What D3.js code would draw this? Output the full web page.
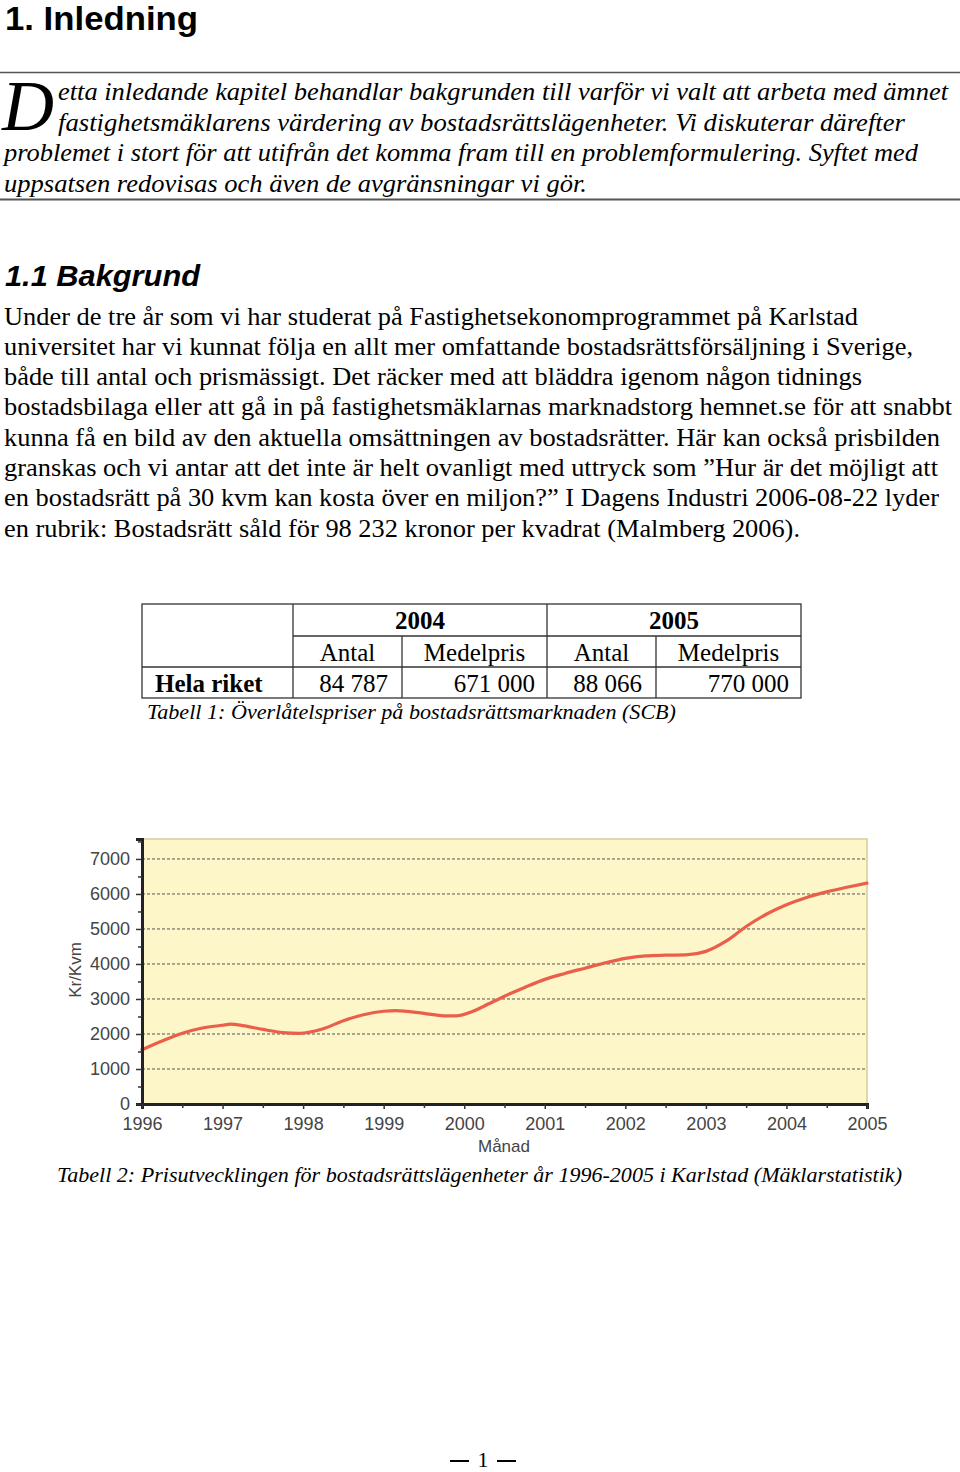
<!DOCTYPE html>
<html><head><meta charset="utf-8">
<script src="https://cdn.jsdelivr.net/npm/d3@7/dist/d3.min.js"></script>
<style>
html,body{margin:0;padding:0;background:#fff;}
svg{display:block;}
</style></head>
<body>
<svg id="page" width="960" height="1472"></svg>
<script>
// ---- chart data (Kr/Kvm, Karlstad, 1996-2005) ----
const periods = [1996.0,1996.25,1996.5,1996.75,1997.0,1997.1,1997.25,1997.5,1997.75,1997.95,
  1998.25,1998.5,1998.75,1999.0,1999.15,1999.5,1999.75,1999.9,2000.1,2000.25,2000.5,2000.75,
  2001.0,2001.25,2001.5,2001.75,2002.0,2002.25,2002.5,2002.75,2003.0,2003.25,2003.5,2003.75,
  2004.0,2004.25,2004.5,2004.75,2005.0];
const prices = [1550,1800,2020,2170,2250,2280,2240,2130,2040,2020,
  2150,2380,2550,2650,2670,2590,2520,2520,2640,2800,3080,3330,
  3560,3730,3880,4030,4160,4230,4250,4260,4360,4650,5070,5420,
  5690,5900,6060,6190,6310];
const yearTicks = [1996,1997,1998,1999,2000,2001,2002,2003,2004,2005];
const yTicks = [0,1000,2000,3000,4000,5000,6000,7000];

// ---- table data ----
const tableYears = ["2004","2005"];
const tableCols = ["Antal","Medelpris","Antal","Medelpris"];
const tableRowLabel = "Hela riket";
const tableValues = ["84 787","671 000","88 066","770 000"];

// ---- text ----
const introLines = [
  {t:"etta inledande kapitel behandlar bakgrunden till varför vi valt att arbeta med ämnet", x:58, y:100, end:948},
  {t:"fastighetsmäklarens värdering av bostadsrättslägenheter. Vi diskuterar därefter", x:58, y:131, end:905},
  {t:"problemet i stort för att utifrån det komma fram till en problemformulering. Syftet med", x:4, y:161, end:918},
  {t:"uppsatsen redovisas och även de avgränsningar vi gör.", x:4, y:192, end:587}
];
const bodyLines = [
  {t:"Under de tre år som vi har studerat på Fastighetsekonomprogrammet på Karlstad", end:858},
  {t:"universitet har vi kunnat följa en allt mer omfattande bostadsrättsförsäljning i Sverige,", end:913},
  {t:"både till antal och prismässigt. Det räcker med att bläddra igenom någon tidnings", end:862},
  {t:"bostadsbilaga eller att gå in på fastighetsmäklarnas marknadstorg hemnet.se för att snabbt", end:952},
  {t:"kunna få en bild av den aktuella omsättningen av bostadsrätter. Här kan också prisbilden", end:940},
  {t:"granskas och vi antar att det inte är helt ovanligt med uttryck som ”Hur är det möjligt att", end:938},
  {t:"en bostadsrätt på 30 kvm kan kosta över en miljon?” I Dagens Industri 2006-08-22 lyder", end:939},
  {t:"en rubrik: Bostadsrätt såld för 98 232 kronor per kvadrat (Malmberg 2006).", end:800}
];

const svg = d3.select("#page");
const serif = "'Liberation Serif','Times New Roman',serif";
const sans = "'Liberation Sans',Arial,sans-serif";

function fitText(sel, x, end){
  sel.attr("textLength", end - x).attr("lengthAdjust","spacingAndGlyphs");
}

// Heading
const h1 = svg.append("text").attr("x",5).attr("y",30).attr("font-family",sans).attr("font-weight","bold")
  .attr("font-size",33).attr("fill","#000").text("1. Inledning");
fitText(h1,5,198);

// Rules
svg.append("line").attr("x1",0).attr("x2",960).attr("y1",72.5).attr("y2",72.5).attr("stroke","#555").attr("stroke-width",1.5);
svg.append("line").attr("x1",0).attr("x2",960).attr("y1",199.5).attr("y2",199.5).attr("stroke","#555").attr("stroke-width",2);

// Drop cap
svg.append("text").attr("x",2).attr("y",130).attr("font-family",serif).attr("font-style","italic")
  .attr("font-size",72).attr("fill","#000").text("D");

introLines.forEach(l=>{
  const t = svg.append("text").attr("x",l.x).attr("y",l.y).attr("font-family",serif)
    .attr("font-style","italic").attr("font-size",25.5).attr("fill","#000").text(l.t);
  fitText(t,l.x,l.end);
});

// Section heading
const h2 = svg.append("text").attr("x",5).attr("y",286).attr("font-family",sans).attr("font-weight","bold")
  .attr("font-style","italic").attr("font-size",30).attr("fill","#000").text("1.1 Bakgrund");
fitText(h2,5,200);

bodyLines.forEach((l,i)=>{
  const t = svg.append("text").attr("x",4).attr("y",324.5 + i*30.3).attr("font-family",serif)
    .attr("font-size",25.5).attr("fill","#000").text(l.t);
  fitText(t,4,l.end);
});

// ---- Table ----
const tb = svg.append("g");
const colX = [142,293,402,547,656,801];
const tStroke = "#333";
tb.append("rect").attr("x",142).attr("y",604).attr("width",801-142).attr("height",698-604)
  .attr("fill","none").attr("stroke",tStroke).attr("stroke-width",1.3);
tb.append("line").attr("x1",293).attr("x2",801).attr("y1",636).attr("y2",636).attr("stroke",tStroke).attr("stroke-width",1.3);
tb.append("line").attr("x1",142).attr("x2",801).attr("y1",667).attr("y2",667).attr("stroke",tStroke).attr("stroke-width",1.3);
tb.append("line").attr("x1",293).attr("x2",293).attr("y1",604).attr("y2",698).attr("stroke",tStroke).attr("stroke-width",1.3);
tb.append("line").attr("x1",547).attr("x2",547).attr("y1",604).attr("y2",698).attr("stroke",tStroke).attr("stroke-width",1.3);
tb.append("line").attr("x1",402).attr("x2",402).attr("y1",636).attr("y2",698).attr("stroke",tStroke).attr("stroke-width",1.3);
tb.append("line").attr("x1",656).attr("x2",656).attr("y1",636).attr("y2",698).attr("stroke",tStroke).attr("stroke-width",1.3);
tableYears.forEach((y,i)=>{
  tb.append("text").attr("x",(colX[1+2*i]+colX[3+2*i])/2).attr("y",629).attr("text-anchor","middle")
    .attr("font-family",serif).attr("font-weight","bold").attr("font-size",25).text(y);
});
tableCols.forEach((c,i)=>{
  tb.append("text").attr("x",(colX[1+i]+colX[2+i])/2).attr("y",660.5).attr("text-anchor","middle")
    .attr("font-family",serif).attr("font-size",25).text(c);
});
tb.append("text").attr("x",155).attr("y",691.5).attr("font-family",serif).attr("font-weight","bold")
  .attr("font-size",25).text(tableRowLabel);
tableValues.forEach((v,i)=>{
  const isPrice = i%2===1;
  tb.append("text").attr("x", isPrice ? colX[2+i]-12 : (colX[1+i]+colX[2+i])/2 + 6)
    .attr("y",691.5).attr("text-anchor", isPrice ? "end":"middle")
    .attr("font-family",serif).attr("font-size",25).text(v);
});
const cap1 = svg.append("text").attr("x",147).attr("y",719).attr("font-family",serif).attr("font-style","italic")
  .attr("font-size",21).text("Tabell 1: Överlåtelspriser på bostadsrättsmarknaden (SCB)");
fitText(cap1,147,676);

// ---- Chart ----
const x = d3.scaleLinear().domain([1996,2005]).range([142,867]);
const y = d3.scaleLinear().domain([0,7570]).range([1104,839]);
const ch = svg.append("g");
ch.append("rect").attr("x",x(1996)).attr("y",y(7570)).attr("width",x(2005)-x(1996)).attr("height",y(0)-y(7570))
  .attr("fill","#fdf6c8");
ch.append("path").attr("d",`M${x(1996)},${y(7570)}H${x(2005)}V${y(0)}`).attr("fill","none")
  .attr("stroke","#d9cc96").attr("stroke-width",1.5);
ch.selectAll("line.grid").data(yTicks.filter(d=>d>0)).join("line").attr("class","grid")
  .attr("x1",x(1996)).attr("x2",x(2005)).attr("y1",d=>y(d)).attr("y2",d=>y(d))
  .attr("stroke","#555").attr("stroke-width",1).attr("stroke-dasharray","3,2");

const line = d3.line().x((d,i)=>x(periods[i])).y(d=>y(d)).curve(d3.curveMonotoneX);
ch.append("path").datum(prices).attr("d",line).attr("fill","none").attr("stroke","#ea5f4a")
  .attr("stroke-width",3.2).attr("stroke-linecap","round");

// Y axis
const yAxis = d3.axisLeft(y).tickValues(yTicks).tickSize(6).tickPadding(6).tickFormat(d3.format("d"));
const ya = ch.append("g").attr("transform",`translate(${x(1996)},0)`).call(yAxis);
ya.select(".domain").attr("stroke","#222").attr("stroke-width",3);
ya.selectAll(".tick line").attr("stroke","#333").attr("stroke-width",1.5);
ya.selectAll(".tick text").attr("font-family",sans).attr("font-size",18).attr("fill","#444");
const yMinor = d3.axisLeft(y).tickValues(d3.range(500,7600,1000)).tickSize(4).tickFormat("");
const ym = ch.append("g").attr("transform",`translate(${x(1996)},0)`).call(yMinor);
ym.select(".domain").remove();
ym.selectAll(".tick line").attr("stroke","#333").attr("stroke-width",1.5);

// X axis
const xAxis = d3.axisBottom(x).tickValues(yearTicks).tickSize(5).tickPadding(8).tickFormat(d3.format("d"));
const xa = ch.append("g").attr("transform",`translate(0,${y(0)})`).call(xAxis);
xa.select(".domain").attr("stroke","#222").attr("stroke-width",3);
xa.selectAll(".tick line").attr("stroke","#333").attr("stroke-width",1.5);
xa.selectAll(".tick text").attr("font-family",sans).attr("font-size",18).attr("fill","#444");
const xMinor = d3.axisBottom(x).tickValues(yearTicks.slice(0,-1).map(d=>d+0.5)).tickSize(4).tickFormat("");
const xm = ch.append("g").attr("transform",`translate(0,${y(0)})`).call(xMinor);
xm.select(".domain").remove();
xm.selectAll(".tick line").attr("stroke","#333").attr("stroke-width",1.5);

ch.append("text").attr("transform",`translate(81,970) rotate(-90)`).attr("text-anchor","middle")
  .attr("font-family",sans).attr("font-size",17).attr("fill","#444").text("Kr/Kvm");
ch.append("text").attr("x",504).attr("y",1152).attr("text-anchor","middle")
  .attr("font-family",sans).attr("font-size",17).attr("fill","#444").text("Månad");

const cap2 = svg.append("text").attr("x",57).attr("y",1182).attr("font-family",serif).attr("font-style","italic")
  .attr("font-size",21).text("Tabell 2: Prisutvecklingen för bostadsrättslägenheter år 1996-2005 i Karlstad (Mäklarstatistik)");
fitText(cap2,57,902);

// Page number
svg.append("text").attr("x",483).attr("y",1467).attr("text-anchor","middle").attr("font-family",serif)
  .attr("font-size",22).text("1");
svg.append("line").attr("x1",450).attr("x2",469).attr("y1",1461).attr("y2",1461).attr("stroke","#000").attr("stroke-width",2);
svg.append("line").attr("x1",497).attr("x2",516).attr("y1",1461).attr("y2",1461).attr("stroke","#000").attr("stroke-width",2);
</script>
</body></html>
